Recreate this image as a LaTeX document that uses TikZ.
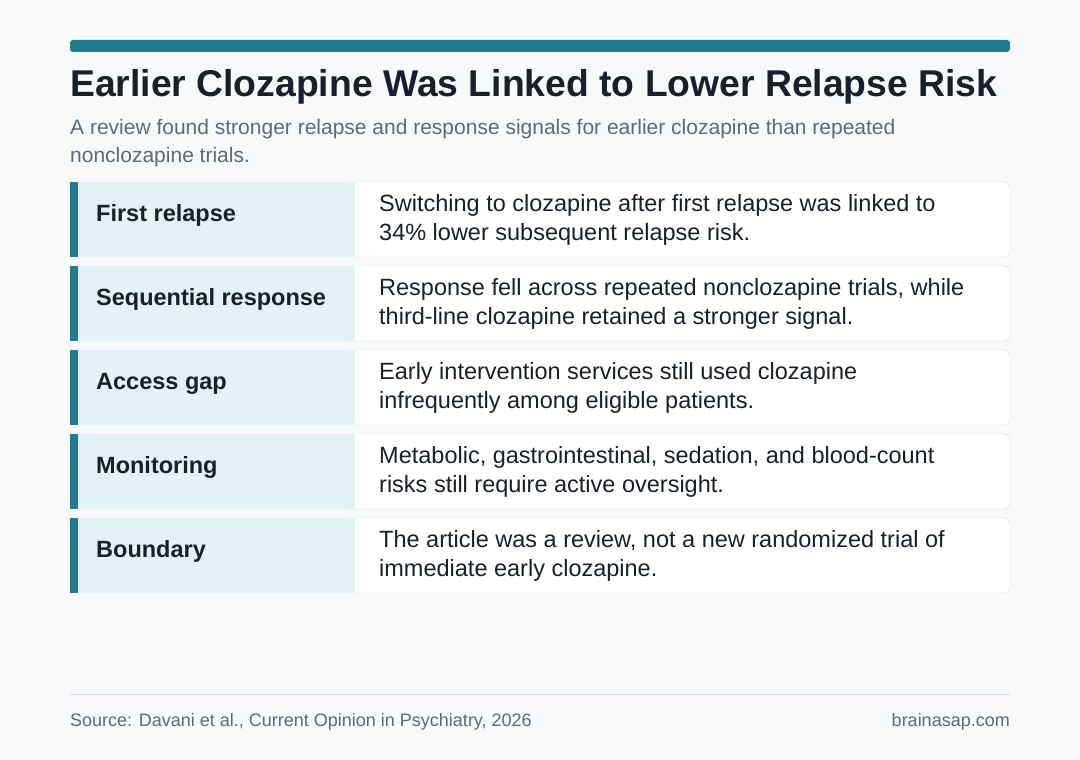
\documentclass[tikz,border=0pt]{standalone}
\usepackage{fontspec}
\setmainfont{Liberation Sans}
\definecolor{bg}{HTML}{F7F9FB}
\definecolor{teal}{HTML}{217C8B}
\definecolor{ink}{HTML}{17202B}
\definecolor{sub}{HTML}{5B6B78}
\definecolor{lab}{HTML}{E2F2F6}
\definecolor{bord}{HTML}{CFDCE6}
\begin{document}
\begin{tikzpicture}[x=1pt,y=-1pt,
  lbl/.style={anchor=west,font=\fontsize{23.5}{28}\selectfont\bfseries,text=ink,inner sep=0},
  body/.style={anchor=west,font=\fontsize{23.5}{29}\selectfont,text=ink,align=left,inner sep=0}]
\fill[bg] (0,0) rectangle (1080,760);
\useasboundingbox (0,0) rectangle (1080,760);
\fill[teal,rounded corners=3] (70,40) rectangle (1010,52);
\node[anchor=west,inner sep=0,font=\fontsize{37.3}{42}\selectfont\bfseries,text=ink] (title) at (70,87) {Earlier Clozapine Was Linked to Lower Relapse Risk};
\node[anchor=west,inner sep=0,align=left,font=\fontsize{21}{28}\selectfont,text=sub] (subt) at (70,143) {A review found stronger relapse and response signals for earlier clozapine than repeated\\nonclozapine trials.};
\foreach \i/\l/\b in {0/First relapse/{Switching to clozapine after first relapse was linked to\\34\% lower subsequent relapse risk.},
1/Sequential response/{Response fell across repeated nonclozapine trials, while\\third-line clozapine retained a stronger signal.},
2/Access gap/{Early intervention services still used clozapine\\infrequently among eligible patients.},
3/Monitoring/{Metabolic, gastrointestinal, sedation, and blood-count\\risks still require active oversight.},
4/Boundary/{The article was a review, not a new randomized trial of\\immediate early clozapine.}}{
  \pgfmathsetmacro{\t}{182+84*\i}
  \pgfmathsetmacro{\bt}{\t+75}
  \pgfmathsetmacro{\m}{\t+37.5}
  \draw[bord,fill=white,rounded corners=6] (340,\t) rectangle (1010,\bt);
  \fill[lab] (78,\t) rectangle (355,\bt);
  \fill[teal] (70,\t) rectangle (78,\bt);
  \node[lbl] (l\i) at (96,\m-4) {\l};
  \node[body] (b\i) at (379,\m) {\b};
}
\draw[bord] (70,694) -- (1010,694);
\node[anchor=west,inner sep=0,font=\fontsize{18}{22}\selectfont,text=sub] (src) at (70,722) {Source: Davani et al., Current Opinion in Psychiatry, 2026};
\node[anchor=east,inner sep=0,font=\fontsize{18}{22}\selectfont,text=sub] (site) at (1010,722) {brainasap.com};
\end{tikzpicture}
\end{document}
